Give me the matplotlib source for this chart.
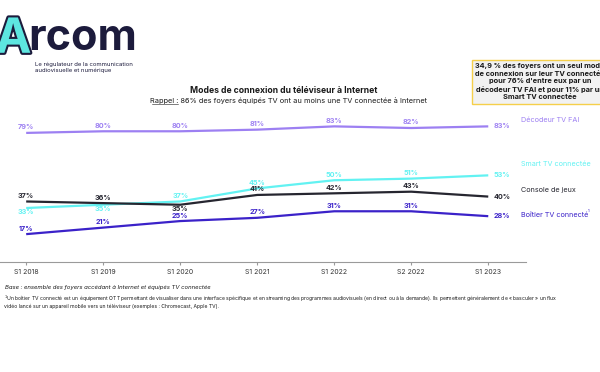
import matplotlib.pyplot as plt
import matplotlib.patheffects as pe
import numpy as np

periods = ["S1 2018", "S1 2019", "S1 2020", "S1 2021", "S1 2022", "S2 2022", "S1 2023"]
decodeur = [79, 80, 80, 81, 83, 82, 83]
smart_tv = [33, 35, 37, 45, 50, 51, 53]
console = [37, 36, 35, 41, 42, 43, 40]
boitier = [17, 21, 25, 27, 31, 31, 28]

names = ["Décodeur TV FAI", "Smart TV connectée", "Console de jeux", "Boîtier TV connecté"]
colors = ["#9d80f2", "#62f2f2", "#262630", "#3b22c9"]
# label placement per point: +1 above, -1 below, 0 right of the point
label_pos = [
    [1, 1, 1, 1, 1, 1, 0],
    [-1, -1, 1, 1, 1, 1, 0],
    [1, 1, -1, 1, 1, 1, 0],
    [1, 1, 1, 1, 1, 1, 0],
]
name_y = [87, 60, 44, 29]

plt.rcParams['font.family'] = ['Inter', 'DejaVu Sans']

fig = plt.figure(figsize=(6, 3.72), dpi=100)
ax = fig.add_axes([0, 0.296, 526 / 600, 0.395])
x = np.arange(len(periods))
series = [decodeur, smart_tv, console, boitier]

for vals, col, pos, nm, ny in zip(series, colors, label_pos, names, name_y):
    ax.plot(x, vals, color=col, lw=1.6, solid_capstyle='butt')
    for xi, v, p in zip(x, vals, pos):
        if p == 0:
            ax.text(xi + 0.07, v, f"{v}%", color=col, fontsize=5.2, fontweight='bold',
                    ha='left', va='center')
        else:
            ax.text(xi, v + (3.4 if p > 0 else -2.6), f"{v}%", color=col, fontsize=5.2,
                    fontweight='bold', ha='center', va='center')
    ax.text(6.42, ny, nm, color=col, fontsize=5.2, ha='left', va='center', clip_on=False)

ax.text(7.29, 30.5, "1", color=colors[3], fontsize=3, clip_on=False)

ax.set_xlim(-0.34, 6.49)
ax.set_ylim(0, 90)
ax.set_xticks(x)
ax.set_xticklabels(periods, fontsize=5)
ax.set_yticks([])
for s in ['top', 'right', 'left']:
    ax.spines[s].set_visible(False)
ax.spines['bottom'].set_color('#9a9a9a')
ax.spines['bottom'].set_linewidth(0.8)
ax.tick_params(axis='x', length=2, color='#9a9a9a', pad=3, colors='#333333')

# logo
navy = '#1c1b3c'
fig.text(-0.008, 0.893, "A", fontsize=35, fontweight='bold', color='#5de6e0',
         ha='left', va='center',
         path_effects=[pe.withStroke(linewidth=3, foreground=navy)])
fig.text(0.047, 0.896, "rcom", fontsize=31, fontweight='bold', color=navy,
         ha='left', va='center')
fig.text(0.058, 0.819, "Le régulateur de la communication\naudiovisuelle et numérique",
         fontsize=4.3, color=navy, ha='left', va='center', linespacing=1.3)

# titles
fig.text(0.472, 0.758, "Modes de connexion du téléviseur à Internet", fontsize=6.2,
         fontweight='bold', color='#1a1a1a', ha='center', va='center')
fig.text(0.48, 0.731, "Rappel : 86% des foyers équipés TV ont au moins une TV connectée à Internet",
         fontsize=5.3, color='#1a1a1a', ha='center', va='center')
fig.add_artist(plt.Line2D([0.254, 0.297], [0.72, 0.72], color='#1a1a1a', lw=0.4))

# callout box
fig.text(0.9, 0.78,
         "34,9 % des foyers ont un seul mode\nde connexion sur leur TV connectée\n"
         "pour 76% d'entre eux par un\ndécodeur TV FAI et pour 11% par un\nSmart TV connectée",
         fontsize=5.3, fontweight='bold', color='#1a1a1a', ha='center', va='center',
         linespacing=1.3,
         bbox=dict(boxstyle='square,pad=0.45', fc='#f2f2f2', ec='#f5cf4a', lw=1))

# footnotes
fig.text(0.008, 0.228, "Base : ensemble des foyers accédant à Internet et équipés TV connectée",
         fontsize=4.3, style='italic', color='#1a1a1a', ha='left', va='center')
fig.text(0.006, 0.19,
         "$^1$Un boîtier TV connecté est un équipement OTT permettant de visualiser dans une interface "
         "spécifique et en streaming des programmes audiovisuels (en direct ou à la demande). "
         "Ils permettent généralement de « basculer » un flux\nvidéo lancé sur un appareil mobile "
         "vers un téléviseur (exemples : Chromecast, Apple TV).",
         fontsize=3.65, color='#1a1a1a', ha='left', va='center', linespacing=1.15)

fig.savefig("out.png", dpi=100)
